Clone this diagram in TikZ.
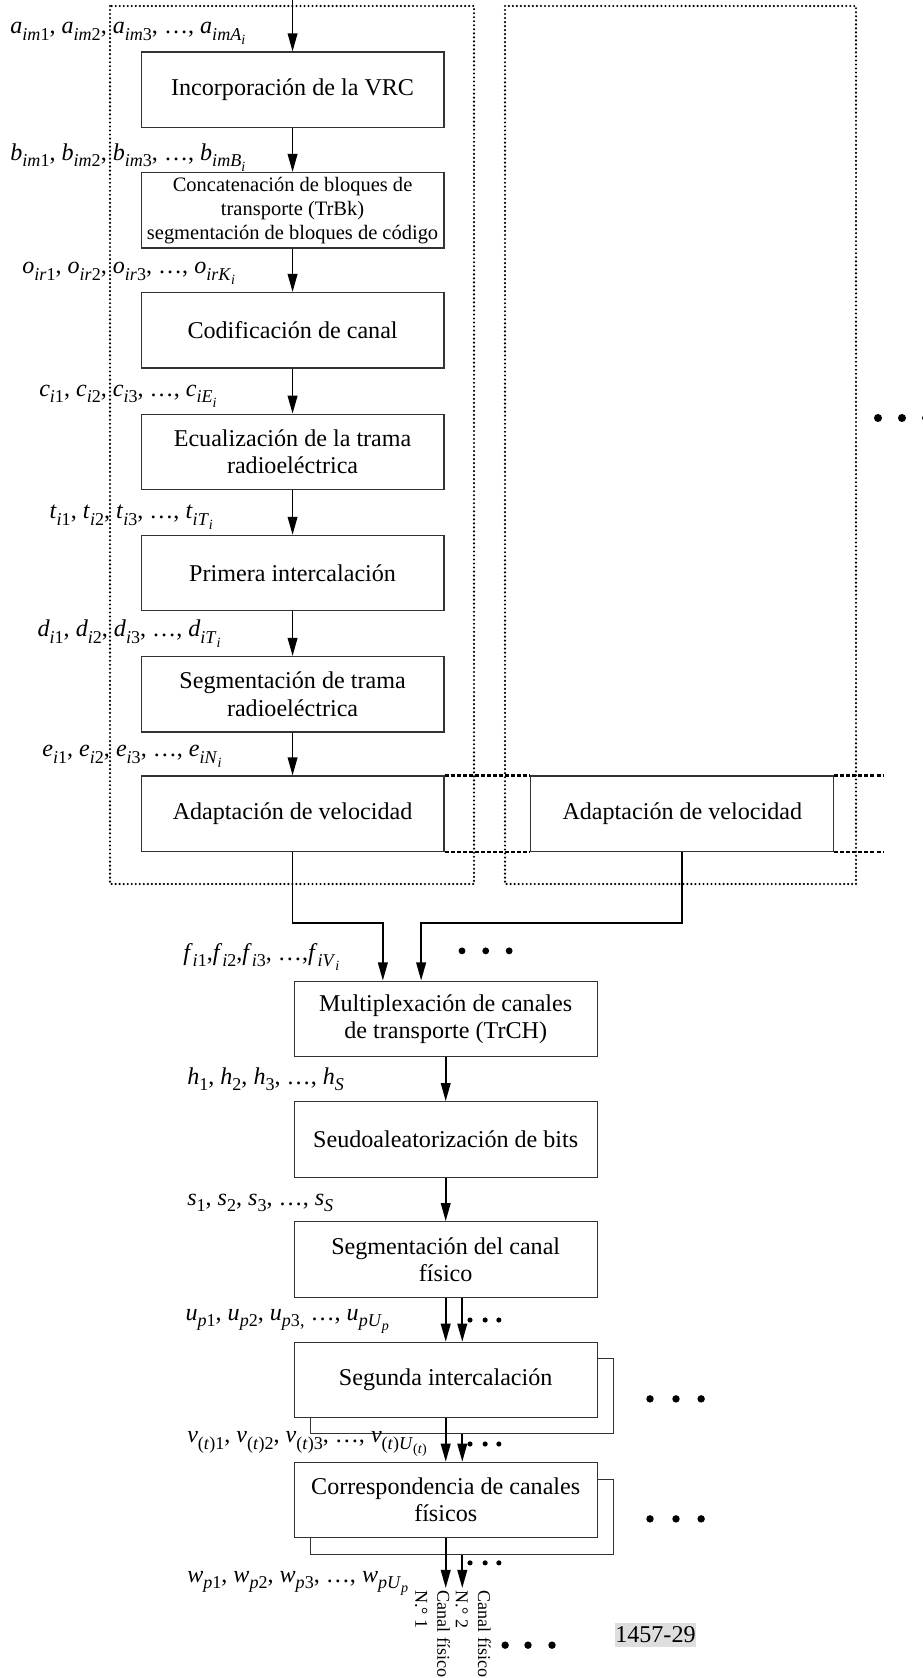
\documentclass[tikz,border=0pt]{standalone}
\usepackage{fontspec}
\setmainfont{Liberation Serif}
\usetikzlibrary{arrows.meta}
\usetikzlibrary{positioning}
\newcommand{\svar}[2]{\textit{#1}\raisebox{-3.2pt}{\fontsize{9}{10}\selectfont #2}}
\newcommand{\ssub}[1]{\raisebox{-2pt}{\fontsize{7}{8}\selectfont #1}}
\tikzset{
    block/.style = {rectangle, draw=black!80, line width=0.6pt, fill=white, minimum width=5.3cm, minimum height=1.32cm, align=center, font=\fontsize{12}{13.5}\selectfont},
    blocks/.style = {block, inner sep=1pt, font=\fontsize{10.2}{12}\selectfont},
    frame/.style = {line width=1.2pt, line cap=round, dash pattern=on 0pt off 2pt},
    rowline/.style = {line width=1.1pt, dash pattern=on 2pt off 1pt},
    edgen/.style = {-{Triangle[length=9pt,width=4.8pt]}, line width=0.9pt},
    seqlabel/.style = {anchor=base west, inner sep=0pt, font=\fontsize{12}{14}\selectfont},
    chanlabel/.style = {rotate=-90, anchor=north west, align=left, inner sep=1pt, font=\fontsize{9}{11}\selectfont},
    figno/.style = {fill=black!13, minimum width=1.42cm, minimum height=0.42cm, inner sep=0pt, font=\fontsize{12}{14}\selectfont}
}

\begin{document}
\begin{tikzpicture}
  \useasboundingbox (0,0) rectangle (16.135,-29.365);

  % one box per transport channel
  \draw[frame] (1.925,-0.105) rectangle (8.295,-15.47);
  \draw[frame] (8.8375,-0.105) rectangle (14.98,-15.47);

  \coordinate (in) at (5.12,0);
  \node[block]  (crc)  at (5.12,-1.57)  {Incorporación de la VRC};
  \node[blocks] (cat)  at (5.12,-3.68)  {Concatenación de bloques de\\transporte (TrBk)\\segmentación de bloques de código};
  \node[block]  (cod)  at (5.12,-5.78)  {Codificación de canal};
  \node[block]  (equ)  at (5.12,-7.91)  {Ecualización de la trama\\radioeléctrica};
  \node[block]  (int1) at (5.12,-10.03) {Primera intercalación};
  \node[block]  (segt) at (5.12,-12.15) {Segmentación de trama\\radioeléctrica};
  \node[block]  (rm1)  at (5.12,-14.24) {Adaptación de velocidad};
  \node[block]  (rm2)  at (11.94,-14.24) {Adaptación de velocidad};

  \draw[rowline] (rm1.north east) -- (rm2.north west);
  \draw[rowline] (rm1.south east) -- (rm2.south west);
  \draw[rowline] (rm2.north east) -- ++(0.875,0);
  \draw[rowline] (rm2.south east) -- ++(0.875,0);

  \node[block]     (mux)   at (7.80,-17.83) {Multiplexación de canales\\de transporte (TrCH)};
  \node[block]     (scr)   at (7.80,-19.94) {Seudoaleatorización de bits};
  \node[block]     (segp)  at (7.80,-22.04) {Segmentación del canal\\físico};
  \node[block]     (int2b) at (8.09,-24.43) {};
  \node[block]     (int2)  at (7.80,-24.15) {Segunda intercalación};
  \node[block]     (mapb)  at (8.09,-26.55) {};
  \node[block]     (map)   at (7.80,-26.25) {Correspondencia de canales\\físicos};

  \coordinate (out1) at (7.80,-27.79);
  \coordinate (out2) at (8.09,-27.79);

  \draw[edgen] (in) -- (crc);
  \draw[edgen] (crc) -- (cat);
  \draw[edgen] (cat) -- (cod);
  \draw[edgen] (cod) -- (equ);
  \draw[edgen] (equ) -- (int1);
  \draw[edgen] (int1) -- (segt);
  \draw[edgen] (segt) -- (rm1);
  \draw[edgen] (rm1.south) -- ++(0,-1.24) -| ([xshift=-1.10cm]mux.north);
  \draw[edgen] (rm2.south) -- ++(0,-1.24) -| ([xshift=-0.43cm]mux.north);
  \draw[edgen] (mux) -- (scr);
  \draw[edgen] (scr) -- (segp);
  \draw[edgen] (segp) -- (int2);
  \draw[edgen] (segp.south -| int2b.south) -- (int2.north -| int2b.south);
  \draw[edgen] (int2) -- (map);
  \draw[edgen] (int2b.south) -- (map.north -| int2b.south);
  \draw[edgen] (map.south) -- (out1);
  \draw[edgen] (mapb.south) -- (out2);

  \node[seqlabel] (la) at (0.175,-0.595) {\svar{a}{\textit{im}1}, \svar{a}{\textit{im}2}, \svar{a}{\textit{im}3}, \dots, \svar{a}{\textit{imA}\ssub{\textit{i}}}};
  \node[seqlabel] (lb) at (0.175,-2.81)  {\svar{b}{\textit{im}1}, \svar{b}{\textit{im}2}, \svar{b}{\textit{im}3}, \dots, \svar{b}{\textit{imB}\ssub{\textit{i}}}};
  \node[seqlabel] (lo) at (0.385,-4.795) {\svar{o}{\textit{ir}1}, \svar{o}{\textit{ir}2}, \svar{o}{\textit{ir}3}, \dots, \svar{o}{\textit{irK}\ssub{\textit{i}}}};
  \node[seqlabel] (lc) at (0.68,-6.94)   {\svar{c}{\textit{i}1}, \svar{c}{\textit{i}2}, \svar{c}{\textit{i}3}, \dots, \svar{c}{\textit{iE}\ssub{\textit{i}}}};
  \node[seqlabel] (lt) at (0.86,-9.08)   {\svar{t}{\textit{i}1}, \svar{t}{\textit{i}2}, \svar{t}{\textit{i}3}, \dots, \svar{t}{\textit{iT}\ssub{\textit{i}}}};
  \node[seqlabel] (ld) at (0.65,-11.14)  {\svar{d}{\textit{i}1}, \svar{d}{\textit{i}2}, \svar{d}{\textit{i}3}, \dots, \svar{d}{\textit{iT}\ssub{\textit{i}}}};
  \node[seqlabel] (le) at (0.735,-13.24) {\svar{e}{\textit{i}1}, \svar{e}{\textit{i}2}, \svar{e}{\textit{i}3}, \dots, \svar{e}{\textit{iN}\ssub{\textit{i}}}};
  \node[seqlabel] (lf) at (3.20,-16.80)  {\svar{f}{\textit{i}1},\svar{f}{\textit{i}2},\svar{f}{\textit{i}3}, \dots,\svar{f}{\textit{iV}\ssub{\textit{i}}}};
  \node[seqlabel] (lh) at (3.27,-18.97)  {\svar{h}{1}, \svar{h}{2}, \svar{h}{3}, \dots, \svar{h}{\textit{S}}};
  \node[seqlabel] (ls) at (3.27,-21.09)  {\svar{s}{1}, \svar{s}{2}, \svar{s}{3}, \dots, \svar{s}{\textit{S}}};
  \node[seqlabel] (lu) at (3.24,-23.10)  {\svar{u}{\textit{p}1}, \svar{u}{\textit{p}2}, \svar{u}{\textit{p}3,} \dots, \svar{u}{\textit{pU}\ssub{\textit{p}}}};
  \node[seqlabel] (lv) at (3.27,-25.25)  {\svar{v}{(\textit{t})1}, \svar{v}{(\textit{t})2}, \svar{v}{(\textit{t})3}, \dots, \svar{v}{(\textit{t})\textit{U}\ssub{(\textit{t})}}};
  \node[seqlabel] (lw) at (3.27,-27.685) {\svar{w}{\textit{p}1}, \svar{w}{\textit{p}2}, \svar{w}{\textit{p}3}, \dots, \svar{w}{\textit{pU}\ssub{\textit{p}}}};

  \node[chanlabel] (ch1) at (7.92,-27.79) {Canal físico\\N.° 1};
  \node[chanlabel] (ch2) at (8.63,-27.79) {Canal físico\\N.° 2};

  \node[figno] (fig) at (11.47,-28.61) {1457-29};

  % more channels
  \foreach \x in {8.085,8.50,8.91}   \fill (\x,-16.64) circle (0.06);
  \foreach \x in {15.365,15.785,16.205} \fill (\x,-7.315) circle (0.07);
  \foreach \x in {11.375,11.83,12.27} \fill (\x,-24.48) circle (0.065);
  \foreach \x in {11.375,11.83,12.27} \fill (\x,-26.58) circle (0.065);
  \foreach \x in {8.84,9.24,9.66}    \fill (\x,-28.79) circle (0.065);
  \foreach \y in {-23.10,-25.27,-27.35}
    \foreach \x in {8.225,8.49,8.73} \fill (\x,\y) circle (0.045);
\end{tikzpicture}
\end{document}
